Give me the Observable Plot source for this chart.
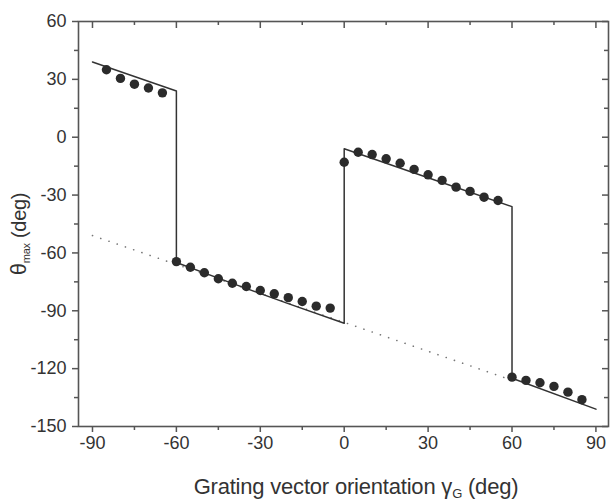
<!DOCTYPE html>
<html><head><meta charset="utf-8">
<script src="https://cdn.jsdelivr.net/npm/d3@7"></script>
<script src="https://cdn.jsdelivr.net/npm/@observablehq/plot@0.6"></script>
<style>
body{margin:0;background:#fff;}
#chart svg{display:block;}
</style>
</head><body><div id="chart"></div>
<script>
// measured points (gamma_G in deg, theta_max in deg)
const pointGamma = [-85,-80,-75,-70,-65,
  -60,-55,-50,-45,-40,-35,-30,-25,-20,-15,-10,-5,
  0,5,10,15,20,25,30,35,40,45,50,55,
  60,65,70,75,80,85];
const pointTheta = [35,30.5,27.5,25.5,23,
  -64.5,-67.4,-70.3,-73.4,-75.7,-77.4,-79.5,-81.2,-83.2,-85.2,-87.6,-88.6,
  -13,-7.8,-9,-11.2,-13.5,-16.7,-19.5,-22.4,-25.9,-28.1,-31.1,-32.8,
  -124.4,-126.1,-127.3,-129.2,-132.2,-136.1];
// model curve (solid)
const modelGamma = [-90,-60,-60,-40,-20,0,0,30,60,60,90];
const modelTheta = [39,24,-65,-75.8,-86.3,-96.5,-6,-21,-36,-125,-141];
// dotted reference line
const dotGamma = [-90,60];
const dotTheta = [-51,-126];
// ticks
const xTicks = [-90,-60,-30,0,30,60,90];
const xMinor = [-75,-45,-15,15,45,75];
const yTicks = [-150,-120,-90,-60,-30,0,30,60];
const yMinor = [-135,-105,-75,-45,-15,15,45];
const xDomain = [-95, 94.5];
const yDomain = [-150, 60];

const points = pointGamma.map((g,i)=>({g, t: pointTheta[i]}));
const model = modelGamma.map((g,i)=>({g, t: modelTheta[i]}));
const dotted = dotGamma.map((g,i)=>({g, t: dotTheta[i]}));

const ink = "#333";
const axisCol = "#555";
const font = "'Liberation Sans', Arial, sans-serif";
const fmt = d => String(d);

const chart = Plot.plot({
  width: 610,
  height: 501,
  marginLeft: 78,
  marginRight: 2,
  marginTop: 21,
  marginBottom: 75,
  style: {fontFamily: font, color: ink, background: "#fff"},
  x: {domain: xDomain, label: null},
  y: {domain: yDomain, label: null},
  marks: [
    Plot.line(dotted, {x: "g", y: "t", stroke: "#777", strokeWidth: 1.6, strokeDasharray: "0.1,8.6", strokeLinecap: "round"}),
    Plot.line(model, {x: "g", y: "t", stroke: ink, strokeWidth: 1.5}),
    Plot.dot(points, {x: "g", y: "t", r: 4.7, fill: "#2b2b2b", stroke: "none"}),
    Plot.frame({stroke: axisCol, strokeWidth: 1.6}),
    // bottom axis
    Plot.axisX(xTicks, {anchor: "bottom", tickSize: 6, tickPadding: 4, fontSize: 18, tickFormat: fmt, stroke: axisCol, strokeWidth: 1.5, label: null, fill: ink}),
    Plot.axisX(xMinor, {anchor: "bottom", tickSize: 4, tickFormat: () => "", stroke: axisCol, strokeWidth: 1.5, label: null}),
    // top ticks (inward)
    Plot.ruleX(xTicks, {x: d => d, y1: yDomain[1], y2: yDomain[1], insetBottom: -7, stroke: axisCol, strokeWidth: 1.5}),
    Plot.ruleX(xMinor, {x: d => d, y1: yDomain[1], y2: yDomain[1], insetBottom: -4, stroke: axisCol, strokeWidth: 1.5}),
    // left axis
    Plot.axisY(yTicks, {anchor: "left", tickSize: 6, tickPadding: 6, fontSize: 18, tickFormat: fmt, stroke: axisCol, strokeWidth: 1.5, label: null, fill: ink}),
    Plot.axisY(yMinor, {anchor: "left", tickSize: 4, tickFormat: () => "", stroke: axisCol, strokeWidth: 1.5, label: null}),
    // right ticks (inward)
    Plot.ruleY(yTicks, {y: d => d, x1: xDomain[1], x2: xDomain[1], insetLeft: -6, stroke: axisCol, strokeWidth: 1.5}),
    Plot.ruleY(yMinor, {y: d => d, x1: xDomain[1], x2: xDomain[1], insetLeft: -4, stroke: axisCol, strokeWidth: 1.5})
  ]
});
document.getElementById("chart").append(chart);

// axis titles with subscripts
const svg = d3.select(chart);
const xt = svg.append("text")
  .attr("x", 356).attr("y", 494)
  .attr("text-anchor", "middle")
  .attr("font-family", font).attr("font-size", 22).attr("fill", ink)
  .attr("letter-spacing", -0.2);
xt.append("tspan").text("Grating vector orientation γ");
xt.append("tspan").attr("font-size", 13).attr("dy", 4).text("G");
xt.append("tspan").attr("dy", -4).text(" (deg)");

const yt = svg.append("text")
  .attr("transform", "translate(26,234) rotate(-90)")
  .attr("text-anchor", "middle")
  .attr("font-family", font).attr("font-size", 20).attr("fill", ink)
  .attr("letter-spacing", -0.3);
yt.append("tspan").attr("font-size", 22).text("θ");
yt.append("tspan").attr("font-size", 11).attr("dy", 4).text("max");
yt.append("tspan").attr("dy", -4).text(" (deg)");
</script>
</body></html>
